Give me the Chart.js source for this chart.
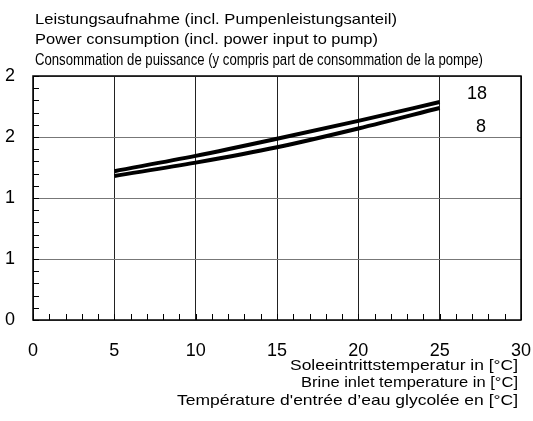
<!DOCTYPE html>
<html>
<head>
<meta charset="utf-8">
<script src="https://cdn.jsdelivr.net/npm/chart.js@4"></script>
<style>
  html, body { margin: 0; padding: 0; background: #fff; }
  #wrap { width: 533px; height: 421px; position: relative; }
</style>
</head>
<body>
<div id="wrap"><canvas id="powerChart"></canvas></div>
<script>
// brine inlet temperature [°C]
const temps = [5, 10, 15, 20, 25];
// power consumption curves
const series18 = [1.22, 1.345, 1.485, 1.632, 1.787];
const series8 = [1.18, 1.29, 1.416, 1.57, 1.738];
const curveNames = ['18', '8'];
const yTickLabels = ['0', '1', '1', '2', '2'];

const titleLines = [
  'Leistungsaufnahme (incl. Pumpenleistungsanteil)',
  'Power consumption (incl. power input to pump)',
  'Consommation de puissance (y compris part de consommation de la pompe)'
];
const xTitleLines = [
  'Soleeintrittstemperatur in [°C]',
  'Brine inlet temperature in [°C]',
  'Température d\'entrée d’eau glycolée en [°C]'
];

const font = '"Liberation Sans", Arial, sans-serif';

// draw text squeezed/stretched to a given width
function fitText(ctx, text, x, y, width, align) {
  const w = ctx.measureText(text).width;
  const k = width / w;
  ctx.save();
  ctx.textAlign = 'left';
  const x0 = align === 'right' ? x - width : x;
  ctx.translate(x0, y);
  ctx.scale(k, 1);
  ctx.fillText(text, 0, 0);
  ctx.restore();
}

const extras = {
  id: 'extras',
  afterDraw(chart) {
    const { ctx, chartArea: a, scales: { x, y } } = chart;
    ctx.save();
    // minor ticks, pointing inward
    ctx.strokeStyle = '#000';
    ctx.lineWidth = 1;
    ctx.beginPath();
    for (let v = 0; v <= 30; v += 1) {
      const px = Math.round(x.getPixelForValue(v)) + 0.5;
      ctx.moveTo(px, a.bottom);
      ctx.lineTo(px, a.bottom - 6);
    }
    for (let i = 0; i <= 20; i++) {
      const py = Math.round(y.getPixelForValue(i / 10)) + 0.5;
      ctx.moveTo(a.left, py);
      ctx.lineTo(a.left + 6, py);
    }
    ctx.stroke();
    // frame
    ctx.lineWidth = 1.5;
    ctx.strokeRect(a.left, a.top, a.right - a.left, a.bottom - a.top);

    ctx.fillStyle = '#000';
    ctx.textBaseline = 'alphabetic';
    // titles
    ctx.font = '15px ' + font;
    fitText(ctx, titleLines[0], 35, 24, 362, 'left');
    fitText(ctx, titleLines[1], 35, 44, 343, 'left');
    ctx.font = '16px ' + font;
    fitText(ctx, titleLines[2], 35, 65, 448, 'left');
    // x axis title
    ctx.font = '15px ' + font;
    fitText(ctx, xTitleLines[0], 518, 370, 228, 'right');
    fitText(ctx, xTitleLines[1], 518, 387, 217, 'right');
    fitText(ctx, xTitleLines[2], 518, 405, 341, 'right');
    // curve labels
    ctx.textBaseline = 'middle';
    ctx.textAlign = 'right';
    ctx.font = '18px ' + font;
    ctx.fillText(curveNames[0], 487, a.top + 18);
    ctx.fillText(curveNames[1], 486, a.top + 51);
    ctx.restore();
  }
};

new Chart(document.getElementById('powerChart'), {
  type: 'line',
  data: {
    labels: temps,
    datasets: [
      { label: curveNames[0], data: temps.map((t, i) => ({ x: t, y: series18[i] })) },
      { label: curveNames[1], data: temps.map((t, i) => ({ x: t, y: series8[i] })) }
    ].map(d => Object.assign(d, {
      borderColor: '#000', borderWidth: 4, pointRadius: 0, tension: 0.4,
      cubicInterpolationMode: 'monotone', fill: false
    }))
  },
  options: {
    responsive: true,
    maintainAspectRatio: false,
    animation: false,
    layout: { padding: { top: 76, right: 12, left: 0, bottom: 0 } },
    plugins: { legend: { display: false }, tooltip: { enabled: false } },
    scales: {
      x: {
        type: 'linear', min: 0, max: 30,
        ticks: { stepSize: 5, color: '#000', font: { family: font, size: 18 }, padding: 20, maxRotation: 0 },
        grid: { color: '#222', lineWidth: 1, drawTicks: false },
        border: { display: false },
        afterFit(s) { s.height = 101; s.paddingRight = 0; s.paddingLeft = 0; }
      },
      y: {
        min: 0, max: 2,
        ticks: {
          stepSize: 0.5, color: '#000', font: { family: font, size: 18 }, padding: 18,
          callback: (v, i) => yTickLabels[i]
        },
        grid: { color: '#777', lineWidth: 1, drawTicks: false },
        border: { display: false },
        afterFit(s) { s.width = 33; s.paddingTop = 0; s.paddingBottom = 0; }
      }
    }
  },
  plugins: [extras]
});
</script>
</body>
</html>
